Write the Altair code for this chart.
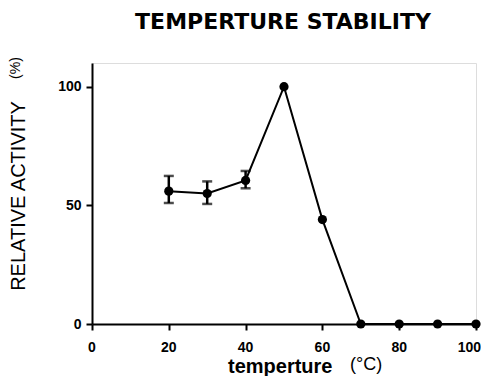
import altair as alt
import pandas as pd

temps = [20, 30, 40, 50, 60, 70, 80, 90, 100]
activity = [56, 55, 60.5, 100, 44, 0, 0, 0, 0]
err_low = [51, 50.6, 57.2, 100, 44, 0, 0, 0, 0]
err_high = [62.4, 60.1, 64.5, 100, 44, 0, 0, 0, 0]
x_ticks = [0, 20, 40, 60, 80, 100]
y_ticks = [0, 50, 100]

df = pd.DataFrame({"t": temps, "a": activity, "lo": err_low, "hi": err_high})
err_df = df[df["hi"] > df["lo"]]
xt_df = pd.DataFrame({"t": x_ticks, "lab": [str(v) for v in x_ticks]})

FONT = "Liberation Sans"

x_enc = alt.X("t:Q", scale=alt.Scale(domain=[0, 100], nice=False),
              axis=alt.Axis(values=x_ticks, title=None, grid=False, labels=False,
                            tickColor="black", domainColor="black",
                            tickSize=6, tickWidth=2, domainWidth=2))
y_enc = alt.Y("a:Q", scale=alt.Scale(domain=[0, 110], nice=False),
              axis=alt.Axis(values=y_ticks, title=None, grid=False,
                            labelFontSize=14, labelFontWeight="bold", labelFont=FONT,
                            labelColor="black", tickColor="black", domainColor="black",
                            tickSize=6, tickWidth=2, domainWidth=2, labelPadding=5))

base = alt.Chart(df)
line = base.mark_line(color="black", strokeWidth=2, clip=False).encode(x=x_enc, y=y_enc)
pts = base.mark_point(filled=True, color="black", size=85, opacity=1, clip=False).encode(x="t:Q", y="a:Q")

ebase = alt.Chart(err_df)
rule = ebase.mark_rule(color="black", strokeWidth=2.5).encode(x="t:Q", y="lo:Q", y2="hi:Q")
cap_top = ebase.mark_tick(color="black", size=10, thickness=2.5, orient="horizontal").encode(x="t:Q", y="hi:Q")
cap_bot = ebase.mark_tick(color="black", size=10, thickness=2.5, orient="horizontal").encode(x="t:Q", y="lo:Q")

xlab_mid = alt.Chart(xt_df[xt_df["t"] < 100]).mark_text(
    font=FONT, fontSize=14, fontWeight="bold", color="black",
    align="center", baseline="middle").encode(
    x="t:Q", y=alt.value(285), text="lab:N")
xlab_end = alt.Chart(xt_df[xt_df["t"] == 100]).mark_text(
    font=FONT, fontSize=14, fontWeight="bold", color="black",
    align="right", baseline="middle", dx=5).encode(
    x="t:Q", y=alt.value(285), text="lab:N")

one = pd.DataFrame({"k": [0]})
title = alt.Chart(one).mark_text(text="TEMPERTURE STABILITY", font="DejaVu Sans", fontSize=22,
                                 fontWeight="bold", color="black",
                                 align="center", baseline="middle").encode(
    x=alt.value(191), y=alt.value(-41))
ytitle = alt.Chart(one).mark_text(text="RELATIVE ACTIVITY", font=FONT, fontSize=20,
                                  color="black", angle=270, align="center",
                                  baseline="middle").encode(
    x=alt.value(-73.5), y=alt.value(133))
ypct = alt.Chart(one).mark_text(text="(%)", font=FONT, fontSize=14, color="black",
                                angle=270, align="center", baseline="middle").encode(
    x=alt.value(-76), y=alt.value(5))
xtitle = alt.Chart(one).mark_text(text="temperture", font=FONT, fontSize=20,
                                  fontWeight="bold", color="black", align="left",
                                  baseline="middle").encode(
    x=alt.value(136), y=alt.value(304))
xunit = alt.Chart(one).mark_text(text="(°C)", font=FONT, fontSize=18, color="black",
                                 align="left", baseline="middle").encode(
    x=alt.value(258), y=alt.value(302))

chart = alt.layer(line, rule, cap_top, cap_bot, pts, xlab_mid, xlab_end,
                  title, ytitle, ypct, xtitle, xunit).properties(
    width=384, height=261,
    autosize=alt.AutoSizeParams(type="none"),
    padding={"left": 84, "top": 55, "right": 5, "bottom": 52},
).configure_view(stroke=None).configure(background="white")

chart.save("out.html", embed_options={"renderer": "svg", "actions": False})
